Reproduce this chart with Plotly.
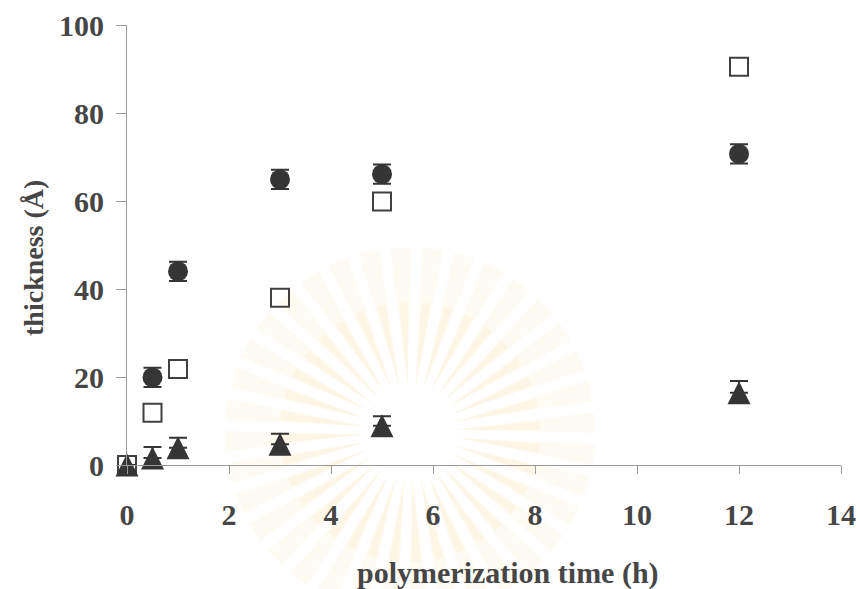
import math
import plotly.graph_objects as go

# polymerization time (h)
time_h = [0, 0.5, 1, 3, 5, 12]

# film thickness (Å), filled circles (with error bars)
circle_x = [0.5, 1, 3, 5, 12]
circle_t = [19.9, 44, 64.9, 66.1, 70.7]
circle_err = [2.2, 2.2, 2.2, 2.2, 2.2]

# film thickness (Å), open squares
square_t = [0, 11.9, 21.8, 38, 59.9, 90.5]

# film thickness (Å), filled triangles (upper error bars)
triangle_t = [0, 1.6, 3.9, 4.7, 8.9, 16.4]
triangle_err = [0, 2.5, 2.3, 2.4, 2.2, 2.7]
triangle_err_minus = [0, 0, 0, 0, 0, 0]

x_ticks = [0, 2, 4, 6, 8, 10, 12, 14]
y_ticks = [0, 20, 40, 60, 80, 100]

ink = "#353535"
text_color = "#464646"
axis_color = "#9a9a9a"
serif = "Liberation Serif, Times New Roman, serif"

W, H = 860, 589
M_L, M_R, M_T, M_B = 127, 19, 25, 124
PW, PH = W - M_L - M_R, H - M_T - M_B


def to_paper(px, py):
    return (px - M_L) / PW, (H - M_B - py) / PH


# faint radiating emblem printed behind the plot
def ray_shapes(cx, cy, n_rays=36, r_in=46, r_out=185, half_deg=3.2,
               color="rgba(248, 224, 165, 0.13)"):
    shapes = []
    h = math.radians(half_deg)
    for k in range(n_rays):
        a = 2 * math.pi * k / n_rays + 0.05
        pts = [
            (cx + r_in * math.cos(a), cy - r_in * math.sin(a)),
            (cx + r_out * math.cos(a - h), cy - r_out * math.sin(a - h)),
            (cx + r_out * math.cos(a + h), cy - r_out * math.sin(a + h)),
        ]
        pp = [to_paper(x, y) for x, y in pts]
        path = "M {:.4f},{:.4f} L {:.4f},{:.4f} L {:.4f},{:.4f} Z".format(
            pp[0][0], pp[0][1], pp[1][0], pp[1][1], pp[2][0], pp[2][1])
        shapes.append(dict(type="path", path=path, xref="paper", yref="paper",
                           fillcolor=color, line=dict(width=0), layer="below"))
    return shapes


emblem = (ray_shapes(410, 432)
          + ray_shapes(410, 432, r_out=130, half_deg=2.0,
                       color="rgba(246, 214, 140, 0.12)"))

fig = go.Figure()

fig.add_trace(go.Scatter(
    x=time_h, y=square_t, mode="markers", cliponaxis=False,
    marker=dict(symbol="square-open", size=18, color="#404040",
                line=dict(width=2, color="#404040")),
    showlegend=False,
))

fig.add_trace(go.Scatter(
    x=circle_x, y=circle_t, mode="markers", cliponaxis=False,
    marker=dict(symbol="circle", size=20, color=ink, line=dict(width=0)),
    error_y=dict(type="data", array=circle_err, color=ink, thickness=2, width=9),
    showlegend=False,
))

# upward triangle centred on the data point (arrow glyph flipped, pushed up by half its height)
tri_size = 23
fig.add_trace(go.Scatter(
    x=time_h, y=triangle_t, mode="markers", cliponaxis=False,
    marker=dict(symbol="arrow-down", size=tri_size, angle=180, standoff=tri_size / 2,
                color=ink, line=dict(width=0)),
    error_y=dict(type="data", symmetric=False, array=triangle_err,
                 arrayminus=triangle_err_minus, color=ink, thickness=2, width=9),
    showlegend=False,
))

fig.update_layout(
    width=W, height=H,
    margin=dict(l=M_L, r=M_R, t=M_T, b=M_B),
    plot_bgcolor="white", paper_bgcolor="white",
    font=dict(family=serif, color=text_color),
    shapes=emblem,
    annotations=[
        dict(text="polymerization time (h)", xref="paper", yref="paper",
             x=0.534, y=-0.245, xanchor="center", yanchor="middle",
             showarrow=False,
             font=dict(size=30, family=serif, color=text_color, weight="bold")),
        dict(text="thickness (Å)", xref="paper", yref="paper",
             x=-0.132, y=0.47, xanchor="center", yanchor="middle",
             textangle=-90, showarrow=False,
             font=dict(size=28, family=serif, color=text_color, weight="bold")),
    ],
)

fig.update_xaxes(
    range=[0, 14], tickvals=x_ticks, showgrid=False, zeroline=False,
    showline=True, linecolor=axis_color, linewidth=1, automargin=False,
    ticks="outside", ticklen=8, tickcolor=axis_color,
    tickfont=dict(size=30, family=serif, color=text_color, weight="bold"),
    ticklabelstandoff=15,
)

fig.update_yaxes(
    range=[0, 100], tickvals=y_ticks, showgrid=False, zeroline=False,
    showline=True, linecolor=axis_color, linewidth=1, automargin=False,
    ticks="outside", ticklen=10, tickcolor=axis_color,
    tickfont=dict(size=30, family=serif, color=text_color, weight="bold"),
    ticklabelstandoff=6,
)

fig.write_html("out.html")
